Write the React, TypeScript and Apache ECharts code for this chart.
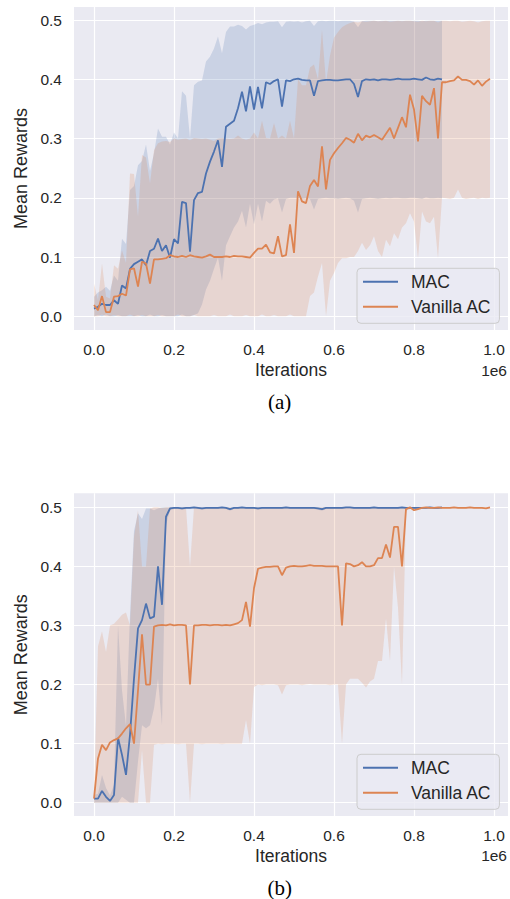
import React, { useEffect, useRef } from "react";
import * as echarts from "echarts";

// iterations, in units of 1e6
const XS = [
  0.00, 0.01, 0.02, 0.03, 0.04, 0.05, 0.06, 0.07, 0.08, 0.09,
  0.10, 0.11, 0.12, 0.13, 0.14, 0.15, 0.16, 0.17, 0.18, 0.19,
  0.20, 0.21, 0.22, 0.23, 0.24, 0.25, 0.26, 0.27, 0.28, 0.29,
  0.30, 0.31, 0.32, 0.33, 0.34, 0.35, 0.36, 0.37, 0.38, 0.39,
  0.40, 0.41, 0.42, 0.43, 0.44, 0.45, 0.46, 0.47, 0.48, 0.49,
  0.50, 0.51, 0.52, 0.53, 0.54, 0.55, 0.56, 0.57, 0.58, 0.59,
  0.60, 0.61, 0.62, 0.63, 0.64, 0.65, 0.66, 0.67, 0.68, 0.69,
  0.70, 0.71, 0.72, 0.73, 0.74, 0.75, 0.76, 0.77, 0.78, 0.79,
  0.80, 0.81, 0.82, 0.83, 0.84, 0.85, 0.86, 0.87, 0.88, 0.89,
  0.90, 0.91, 0.92, 0.93, 0.94, 0.95, 0.96, 0.97, 0.98, 0.99,
];

const X_TICKS = [0, 0.2, 0.4, 0.6, 0.8, 1.0];
const Y_TICKS = [0, 0.1, 0.2, 0.3, 0.4, 0.5];
const SERIES_NAMES = ["MAC", "Vanilla AC"];

// ---------- (a) ----------
const MAC_A_MEAN = [
  0.013, 0.016, 0.021, 0.019, 0.019, 0.027, 0.021, 0.052, 0.047, 0.080,
  0.088, 0.092, 0.096, 0.086, 0.110, 0.114, 0.131, 0.110, 0.120, 0.099,
  0.130, 0.123, 0.193, 0.191, 0.109, 0.196, 0.208, 0.210, 0.241, 0.261,
  0.278, 0.297, 0.252, 0.320, 0.325, 0.330, 0.351, 0.379, 0.346, 0.388,
  0.349, 0.387, 0.351, 0.395, 0.392, 0.397, 0.400, 0.354, 0.398, 0.397,
  0.400, 0.401, 0.399, 0.398, 0.398, 0.372, 0.397, 0.398, 0.399, 0.399,
  0.398, 0.398, 0.399, 0.400, 0.400, 0.392, 0.370, 0.397, 0.400, 0.399,
  0.400, 0.398, 0.400, 0.400, 0.399, 0.400, 0.401, 0.400, 0.400, 0.400,
  0.401, 0.400, 0.399, 0.403, 0.400, 0.399, 0.401, 0.400,
];
const MAC_A_HI = [
  0.033, 0.040, 0.044, 0.050, 0.043, 0.069, 0.060, 0.131, 0.122, 0.213,
  0.220, 0.255, 0.262, 0.290, 0.245, 0.275, 0.317, 0.303, 0.303, 0.290,
  0.310, 0.300, 0.380, 0.372, 0.300, 0.390, 0.396, 0.398, 0.430, 0.438,
  0.452, 0.472, 0.444, 0.480, 0.489, 0.489, 0.492, 0.490, 0.484, 0.490,
  0.492, 0.495, 0.493, 0.496, 0.497, 0.497, 0.498, 0.488, 0.497, 0.498,
  0.497, 0.498, 0.496, 0.498, 0.499, 0.490, 0.498, 0.499, 0.498, 0.499,
  0.499, 0.498, 0.499, 0.499, 0.499, 0.497, 0.488, 0.498, 0.499, 0.499,
  0.499, 0.498, 0.499, 0.499, 0.499, 0.499, 0.499, 0.499, 0.499, 0.499,
  0.499, 0.499, 0.498, 0.499, 0.499, 0.499, 0.499, 0.499,
];
const MAC_A_LO = [
  0.000, 0.002, 0.000, 0.003, 0.000, 0.000, 0.002, 0.000, 0.000, 0.000,
  0.000, 0.002, 0.000, 0.000, 0.003, 0.000, 0.000, 0.002, 0.000, 0.000,
  0.000, 0.000, 0.003, 0.000, 0.000, 0.002, 0.005, 0.020, 0.045, 0.060,
  0.080, 0.099, 0.060, 0.120, 0.135, 0.150, 0.160, 0.178, 0.150, 0.190,
  0.155, 0.190, 0.160, 0.195, 0.190, 0.197, 0.199, 0.175, 0.198, 0.200,
  0.200, 0.200, 0.198, 0.199, 0.198, 0.180, 0.198, 0.199, 0.200, 0.199,
  0.199, 0.198, 0.199, 0.200, 0.199, 0.195, 0.175, 0.198, 0.199, 0.200,
  0.199, 0.198, 0.199, 0.200, 0.199, 0.200, 0.200, 0.199, 0.199, 0.200,
  0.200, 0.199, 0.198, 0.201, 0.199, 0.199, 0.200, 0.199,
];
const VAN_A_MEAN = [
  0.019, 0.010, 0.034, 0.007, 0.007, 0.033, 0.034, 0.038, 0.035, 0.079,
  0.081, 0.050, 0.092, 0.089, 0.055, 0.096, 0.096, 0.097, 0.098, 0.103,
  0.101, 0.100, 0.102, 0.100, 0.103, 0.101, 0.100, 0.099, 0.101, 0.104,
  0.100, 0.100, 0.100, 0.101, 0.100, 0.102, 0.101, 0.101, 0.100, 0.099,
  0.107, 0.114, 0.114, 0.121, 0.108, 0.106, 0.135, 0.101, 0.103, 0.155,
  0.107, 0.211, 0.194, 0.191, 0.220, 0.230, 0.219, 0.287, 0.214, 0.264,
  0.275, 0.284, 0.292, 0.301, 0.298, 0.293, 0.308, 0.297, 0.305, 0.302,
  0.306, 0.302, 0.298, 0.308, 0.318, 0.300, 0.318, 0.336, 0.319, 0.374,
  0.349, 0.295, 0.372, 0.363, 0.357, 0.385, 0.300, 0.395, 0.395, 0.397,
  0.398, 0.405, 0.399, 0.399, 0.397, 0.391, 0.398, 0.389, 0.396, 0.401,
];
const VAN_A_HI = [
  0.055, 0.027, 0.089, 0.033, 0.030, 0.086, 0.080, 0.111, 0.090, 0.241,
  0.240, 0.168, 0.272, 0.268, 0.224, 0.280, 0.292, 0.295, 0.296, 0.294,
  0.300, 0.298, 0.299, 0.300, 0.297, 0.301, 0.300, 0.299, 0.300, 0.298,
  0.296, 0.300, 0.301, 0.300, 0.299, 0.300, 0.305, 0.300, 0.298, 0.300,
  0.310, 0.300, 0.330, 0.301, 0.300, 0.326, 0.300, 0.305, 0.300, 0.330,
  0.300, 0.400, 0.390, 0.390, 0.420, 0.425, 0.400, 0.483, 0.394, 0.440,
  0.470, 0.480, 0.488, 0.492, 0.495, 0.497, 0.496, 0.498, 0.497, 0.498,
  0.499, 0.498, 0.498, 0.499, 0.497, 0.498, 0.499, 0.498, 0.499, 0.499,
  0.498, 0.497, 0.499, 0.498, 0.499, 0.499, 0.496, 0.499, 0.499, 0.498,
  0.499, 0.499, 0.497, 0.498, 0.499, 0.498, 0.496, 0.498, 0.499, 0.499,
];
const VAN_A_LO = [
  0.000, 0.000, 0.003, 0.000, 0.000, 0.002, 0.000, 0.000, 0.000, 0.003,
  0.000, 0.000, 0.002, 0.000, 0.000, 0.000, 0.002, 0.000, 0.000, 0.000,
  0.000, 0.003, 0.000, 0.000, 0.000, 0.002, 0.000, 0.000, 0.000, 0.000,
  0.002, 0.000, 0.000, 0.000, 0.003, 0.000, 0.000, 0.000, 0.002, 0.000,
  0.000, 0.000, 0.003, 0.000, 0.000, 0.002, 0.000, 0.000, 0.000, 0.003,
  0.000, 0.000, 0.000, 0.000, 0.034, 0.040, 0.067, 0.090, 0.000, 0.060,
  0.073, 0.090, 0.098, 0.098, 0.100, 0.100, 0.110, 0.124, 0.112, 0.120,
  0.135, 0.110, 0.100, 0.129, 0.118, 0.140, 0.130, 0.150, 0.157, 0.174,
  0.160, 0.098, 0.177, 0.160, 0.157, 0.168, 0.098, 0.200, 0.199, 0.198,
  0.200, 0.214, 0.200, 0.198, 0.199, 0.200, 0.198, 0.200, 0.199, 0.200,
];

// ---------- (b) ----------
const MAC_B_MEAN = [
  0.007, 0.007, 0.020, 0.010, 0.003, 0.013, 0.110, 0.081, 0.047, 0.115,
  0.210, 0.295, 0.309, 0.337, 0.312, 0.315, 0.400, 0.335, 0.484, 0.498,
  0.499, 0.499, 0.498, 0.499, 0.499, 0.500, 0.499, 0.498, 0.499, 0.499,
  0.499, 0.499, 0.500, 0.499, 0.497, 0.499, 0.499, 0.500, 0.499, 0.499,
  0.499, 0.498, 0.499, 0.499, 0.499, 0.499, 0.499, 0.499, 0.500, 0.499,
  0.499, 0.499, 0.499, 0.499, 0.499, 0.499, 0.498, 0.497, 0.499, 0.499,
  0.499, 0.499, 0.499, 0.500, 0.500, 0.499, 0.499, 0.499, 0.499, 0.499,
  0.500, 0.499, 0.499, 0.499, 0.499, 0.499, 0.499, 0.500, 0.499, 0.499,
  0.499, 0.499, 0.499, 0.499, 0.500, 0.499, 0.499, 0.500,
];
const MAC_B_HI = [
  0.013, 0.015, 0.047, 0.025, 0.012, 0.030, 0.300, 0.190, 0.130, 0.318,
  0.460, 0.490, 0.480, 0.498, 0.498, 0.495, 0.498, 0.500, 0.500, 0.500,
  0.500, 0.500, 0.500, 0.500, 0.500, 0.500, 0.500, 0.500, 0.500, 0.500,
  0.500, 0.500, 0.500, 0.500, 0.500, 0.500, 0.500, 0.500, 0.500, 0.500,
  0.500, 0.500, 0.500, 0.500, 0.500, 0.500, 0.500, 0.500, 0.500, 0.500,
  0.500, 0.500, 0.500, 0.500, 0.500, 0.500, 0.500, 0.500, 0.500, 0.500,
  0.500, 0.500, 0.500, 0.500, 0.500, 0.500, 0.500, 0.500, 0.500, 0.500,
  0.500, 0.500, 0.500, 0.500, 0.500, 0.500, 0.500, 0.500, 0.500, 0.500,
  0.500, 0.500, 0.500, 0.500, 0.500, 0.500, 0.500, 0.500,
];
const MAC_B_LO = [
  0.000, 0.000, 0.000, 0.000, 0.000, 0.000, 0.000, 0.010, 0.005, 0.000,
  0.000, 0.070, 0.131, 0.126, 0.131, 0.160, 0.210, 0.131, 0.470, 0.495,
  0.497, 0.497, 0.496, 0.497, 0.497, 0.498, 0.497, 0.496, 0.497, 0.497,
  0.497, 0.497, 0.498, 0.497, 0.494, 0.497, 0.497, 0.498, 0.497, 0.497,
  0.497, 0.496, 0.497, 0.497, 0.497, 0.497, 0.497, 0.497, 0.498, 0.497,
  0.497, 0.497, 0.497, 0.497, 0.497, 0.497, 0.496, 0.494, 0.497, 0.497,
  0.497, 0.497, 0.497, 0.498, 0.498, 0.497, 0.497, 0.497, 0.497, 0.497,
  0.498, 0.497, 0.497, 0.497, 0.497, 0.497, 0.497, 0.498, 0.497, 0.497,
  0.497, 0.497, 0.497, 0.497, 0.498, 0.497, 0.497, 0.498,
];
const VAN_B_MEAN = [
  0.007, 0.075, 0.098, 0.089, 0.102, 0.106, 0.109, 0.117, 0.126, 0.133,
  0.100, 0.190, 0.285, 0.200, 0.200, 0.298, 0.300, 0.301, 0.300, 0.302,
  0.300, 0.301, 0.301, 0.300, 0.200, 0.300, 0.300, 0.301, 0.301, 0.300,
  0.301, 0.301, 0.300, 0.301, 0.300, 0.302, 0.304, 0.309, 0.340, 0.298,
  0.363, 0.396, 0.398, 0.399, 0.399, 0.400, 0.400, 0.385, 0.398, 0.400,
  0.401, 0.400, 0.400, 0.401, 0.402, 0.401, 0.401, 0.401, 0.400, 0.400,
  0.400, 0.400, 0.300, 0.405, 0.404, 0.400, 0.402, 0.407, 0.400, 0.400,
  0.402, 0.414, 0.414, 0.437, 0.415, 0.467, 0.467, 0.400, 0.497, 0.500,
  0.495, 0.497, 0.499, 0.500, 0.499, 0.499, 0.500, 0.499, 0.499, 0.499,
  0.500, 0.499, 0.499, 0.499, 0.500, 0.499, 0.499, 0.499, 0.498, 0.500,
];
const VAN_B_HI = [
  0.013, 0.265, 0.290, 0.255, 0.300, 0.303, 0.310, 0.318, 0.322, 0.300,
  0.450, 0.495, 0.400, 0.400, 0.498, 0.500, 0.500, 0.499, 0.500, 0.500,
  0.500, 0.499, 0.500, 0.500, 0.400, 0.500, 0.500, 0.500, 0.499, 0.500,
  0.500, 0.500, 0.500, 0.500, 0.500, 0.499, 0.500, 0.500, 0.500, 0.500,
  0.500, 0.500, 0.500, 0.500, 0.499, 0.500, 0.500, 0.500, 0.500, 0.500,
  0.500, 0.500, 0.499, 0.500, 0.500, 0.500, 0.500, 0.500, 0.500, 0.500,
  0.500, 0.500, 0.500, 0.500, 0.500, 0.500, 0.500, 0.500, 0.500, 0.500,
  0.500, 0.500, 0.500, 0.500, 0.500, 0.500, 0.500, 0.500, 0.500, 0.500,
  0.500, 0.500, 0.500, 0.500, 0.500, 0.500, 0.500, 0.500, 0.500, 0.500,
  0.500, 0.500, 0.500, 0.500, 0.500, 0.500, 0.500, 0.500, 0.500, 0.500,
];
const VAN_B_LO = [
  0.000, 0.000, 0.000, 0.000, 0.000, 0.000, 0.000, 0.000, 0.000, 0.000,
  0.000, 0.000, 0.089, 0.000, 0.000, 0.098, 0.100, 0.099, 0.100, 0.100,
  0.100, 0.099, 0.100, 0.100, 0.000, 0.100, 0.100, 0.099, 0.100, 0.100,
  0.100, 0.100, 0.099, 0.100, 0.100, 0.100, 0.100, 0.100, 0.140, 0.100,
  0.196, 0.200, 0.199, 0.200, 0.200, 0.200, 0.199, 0.183, 0.199, 0.200,
  0.200, 0.200, 0.199, 0.200, 0.201, 0.200, 0.200, 0.200, 0.200, 0.199,
  0.200, 0.200, 0.100, 0.200, 0.210, 0.210, 0.210, 0.203, 0.195, 0.205,
  0.210, 0.240, 0.240, 0.312, 0.240, 0.400, 0.330, 0.200, 0.494, 0.497,
  0.497, 0.498, 0.498, 0.499, 0.498, 0.498, 0.499, 0.498, 0.498, 0.498,
  0.499, 0.498, 0.498, 0.498, 0.499, 0.498, 0.498, 0.498, 0.497, 0.499,
];

const BLUE = "#4C72B0";
const ORANGE = "#DD8452";
const BLUE_FILL = "rgba(76,114,176,0.2)";
const ORANGE_FILL = "rgba(221,132,82,0.2)";
const TEXT = "#262626";
const FONT = '"Liberation Sans", Arial, sans-serif';

function band(idx: number, lo: number[], hi: number[], fill: string) {
  const xs = XS.slice(0, lo.length);
  return {
    type: "custom",
    xAxisIndex: idx,
    yAxisIndex: idx,
    silent: true,
    z: 1,
    data: [[0, 0]],
    renderItem: (_params: any, api: any) => {
      const pts: number[][] = [];
      for (let i = 0; i < xs.length; i++) pts.push(api.coord([xs[i], hi[i]]));
      for (let i = xs.length - 1; i >= 0; i--) pts.push(api.coord([xs[i], lo[i]]));
      return {
        type: "polygon",
        shape: { points: pts },
        style: { fill, stroke: "none" },
      };
    },
  };
}

function line(idx: number, name: string, ys: number[], color: string) {
  return {
    type: "line",
    name,
    xAxisIndex: idx,
    yAxisIndex: idx,
    z: 3,
    showSymbol: false,
    symbol: "none",
    color,
    lineStyle: { color, width: 1.8 },
    data: ys.map((y, i) => [XS[i], y]),
  };
}

function xAxis(idx: number) {
  return {
    type: "value",
    gridIndex: idx,
    min: -0.05,
    max: 1.035,
    axisLine: { show: false },
    axisTick: { show: false, customValues: X_TICKS },
    axisLabel: {
      customValues: X_TICKS,
      formatter: (v: number) => v.toFixed(1),
      fontSize: 15.5,
      fontFamily: FONT,
      color: TEXT,
      margin: 11,
    },
    splitLine: { show: true, lineStyle: { color: "#ffffff", width: 1.2 } },
    name: "Iterations",
    nameLocation: "middle",
    nameGap: 31,
    nameTextStyle: { fontSize: 17.5, fontFamily: FONT, color: TEXT },
  };
}

function yAxis(idx: number, min: number, max: number) {
  return {
    type: "value",
    gridIndex: idx,
    min,
    max,
    axisLine: { show: false },
    axisTick: { show: false, customValues: Y_TICKS },
    axisLabel: {
      customValues: Y_TICKS,
      formatter: (v: number) => v.toFixed(1),
      fontSize: 15.5,
      fontFamily: FONT,
      color: TEXT,
      margin: 12,
    },
    splitLine: { show: true, lineStyle: { color: "#ffffff", width: 1.2 } },
    name: "Mean Rewards",
    nameLocation: "middle",
    nameGap: 39,
    nameTextStyle: { fontSize: 18, fontFamily: FONT, color: TEXT },
  };
}

function legend(top: number) {
  return {
    data: SERIES_NAMES,
    orient: "vertical",
    left: 357,
    top,
    selectedMode: false,
    icon: "rect",
    itemWidth: 35,
    itemHeight: 2,
    itemGap: 5,
    padding: [3.5, 8, 6.5, 6],
    backgroundColor: "rgba(234,234,242,0.8)",
    borderColor: "#cccccc",
    borderWidth: 1,
    borderRadius: 4,
    textStyle: {
      fontSize: 17.5,
      fontFamily: FONT,
      color: TEXT,
      lineHeight: 20,
      padding: [0, 0, 0, 8],
    },
  };
}

function gtext(text: string, x: number, y: number, font: string, align: string, color: string) {
  return {
    type: "text",
    x,
    y,
    silent: true,
    style: { text, font, fill: color, align, verticalAlign: "middle" },
  };
}

export default function App() {
  const ref = useRef<HTMLDivElement>(null);
  useEffect(() => {
    if (!ref.current) return;
    const chart = echarts.init(ref.current, null, { renderer: "svg" });
    chart.setOption({
      animation: false,
      backgroundColor: "#ffffff",
      textStyle: { fontFamily: FONT },
      grid: [
        { left: 74, top: 7, width: 434, height: 323, show: true, backgroundColor: "#EAEAF2", borderWidth: 0 },
        { left: 74, top: 493.3, width: 434, height: 322.7, show: true, backgroundColor: "#EAEAF2", borderWidth: 0 },
      ],
      xAxis: [xAxis(0), xAxis(1)],
      yAxis: [yAxis(0, -0.0232, 0.522), yAxis(1, -0.0225, 0.5237)],
      legend: [legend(268.3), legend(754.3)],
      series: [
        band(0, MAC_A_LO, MAC_A_HI, BLUE_FILL),
        band(0, VAN_A_LO, VAN_A_HI, ORANGE_FILL),
        line(0, "MAC", MAC_A_MEAN, BLUE),
        line(0, "Vanilla AC", VAN_A_MEAN, ORANGE),
        band(1, MAC_B_LO, MAC_B_HI, BLUE_FILL),
        band(1, VAN_B_LO, VAN_B_HI, ORANGE_FILL),
        line(1, "MAC", MAC_B_MEAN, BLUE),
        line(1, "Vanilla AC", VAN_B_MEAN, ORANGE),
      ],
      graphic: [
        gtext("1e6", 507, 370.5, `15.5px ${FONT}`, "right", TEXT),
        gtext("1e6", 507, 855.5, `15.5px ${FONT}`, "right", TEXT),
        gtext("(a)", 279.7, 402, '21px "Liberation Serif", "Times New Roman", serif', "center", "#000000"),
        gtext("(b)", 279.7, 887.8, '21px "Liberation Serif", "Times New Roman", serif', "center", "#000000"),
      ],
    });
    return () => chart.dispose();
  }, []);
  return (
    <div
      ref={ref}
      style={{ position: "absolute", left: 0, top: 0, width: 510, height: 899 }}
    />
  );
}
